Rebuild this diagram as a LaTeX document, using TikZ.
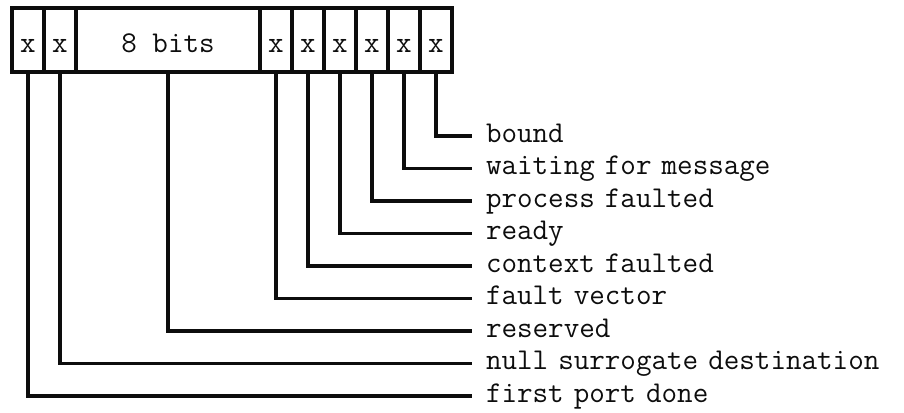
\documentclass[tikz,border=0pt]{standalone}
\usepackage{fontspec}
\usepackage{tikz}
\usetikzlibrary{positioning}
\definecolor{lineclr}{rgb}{0.05, 0.05, 0.05}
\definecolor{txtclr}{rgb}{0.05, 0.05, 0.05}
\tikzset{ %
  ,every node/.style={font=\ttfamily\fontsize{15.1}{18}\selectfont, text=txtclr}
  ,bit/.style={draw=lineclr, line width=1.8pt, inner sep=0, outer sep=0, minimum width=16pt, minimum height=32pt, text height=13pt, text depth=0pt}
  ,field/.style={bit, minimum width=92pt}
  ,flag/.style={inner xsep=7pt, inner ysep=0, outer sep=0, minimum height=16.25pt, text width=206pt, align=left, text height=9pt, text depth=2.5pt}
  ,wire/.style={draw=lineclr, line width=1.8pt}
}
\begin{document}
\begin{tikzpicture}
      \useasboundingbox[fill=white] (0,0) rectangle (452pt,206pt);
      % the register
      \draw
      node[bit] at (14pt,186pt) (A) {x}
      node[bit, right=0pt of A] (B) {x}
      node[field, right=0pt of B] (C) {8 bits}
      node[bit, right=0pt of C] (D) {x}
      node[bit, right=0pt of D] (E) {x}
      node[bit, right=0pt of E] (F) {x}
      node[bit, right=0pt of F] (G) {x}
      node[bit, right=0pt of G] (H) {x}
      node[bit, right=0pt of H] (I) {x};
      % the meanings
      \draw
      node[flag, anchor=west] at (236pt,138pt) (bound) {bound}
      node[flag, below=0pt of bound] (waiting) {waiting for message}
      node[flag, below=0pt of waiting] (pfault) {process faulted}
      node[flag, below=0pt of pfault] (ready) {ready}
      node[flag, below=0pt of ready] (cfault) {context faulted}
      node[flag, below=0pt of cfault] (vector) {fault vector}
      node[flag, below=0pt of vector] (reserved) {reserved}
      node[flag, below=0pt of reserved] (nulldest) {null surrogate destination}
      node[flag, below=0pt of nulldest] (first) {first port done};
      \draw [wire] (I.south) |- (bound.west) (H.south) |- (waiting.west) (G.south) |- (pfault.west)
        (F.south) |- (ready.west) (E.south) |- (cfault.west) (D.south) |- (vector.west)
        (C.south) |- (reserved.west) (B.south) |- (nulldest.west) (A.south) |- (first.west);
\end{tikzpicture}
\end{document}
